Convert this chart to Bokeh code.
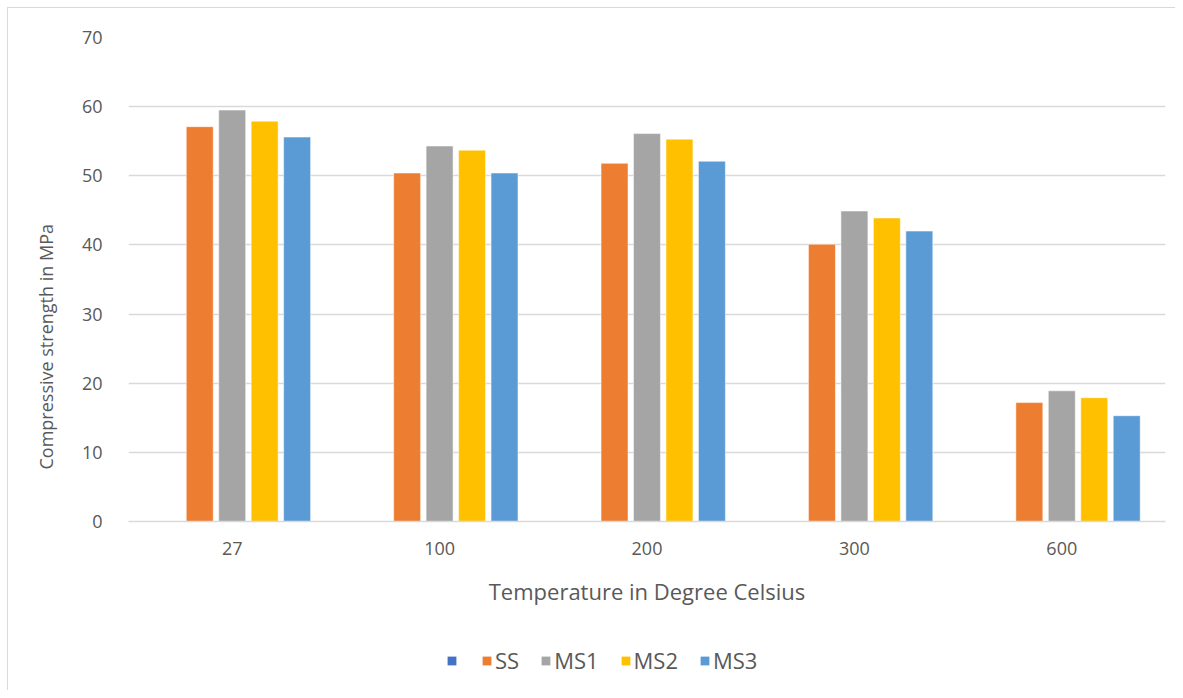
from bokeh.plotting import figure
from bokeh.layouts import column
from bokeh.models import ColumnDataSource, FactorRange, Legend, LegendItem, Range1d, SingleIntervalTicker, Title
from bokeh.transform import dodge
from bokeh.embed import file_html
from bokeh.resources import INLINE

categories = ["27", "100", "200", "300", "600"]
blank = [0, 0, 0, 0, 0]
ss = [57.1, 50.4, 51.8, 40.1, 17.2]
ms1 = [59.5, 54.3, 56.1, 44.9, 18.9]
ms2 = [57.9, 53.7, 55.3, 43.9, 17.9]
ms3 = [55.6, 50.4, 52.1, 42.0, 15.3]

series_names = ["", "SS", "MS1", "MS2", "MS3"]
series_values = [blank, ss, ms1, ms2, ms3]
colors = ["#4472C4", "#ED7D31", "#A5A5A5", "#FFC000", "#5B9BD5"]

data = {"cat": categories}
for i, vals in enumerate(series_values):
    data[f"s{i}"] = vals
source = ColumnDataSource(data)

FONT = "Open Sans"
TXT = "#595959"

main = figure(width=1167, height=600, x_range=FactorRange(*categories),
              y_range=Range1d(0, 70), output_backend="svg", toolbar_location=None,
              min_border_left=120, min_border_right=10, min_border_top=29,
              min_border_bottom=86)
main.outline_line_color = None
main.x_range.range_padding = 0

step = 0.1565
width = 0.13
for i in range(5):
    main.vbar(x=dodge("cat", (i - 2) * step, range=main.x_range), top=f"s{i}",
              width=width, source=source, fill_color=colors[i],
              line_color="white", line_width=0.5)

main.yaxis.ticker = SingleIntervalTicker(interval=10)
main.ygrid.grid_line_color = "#d9d9d9"
main.ygrid.grid_line_width = 1.5
main.xgrid.grid_line_color = None

for ax in (main.xaxis, main.yaxis):
    ax.major_tick_line_color = None
    ax.minor_tick_line_color = None
    ax.major_label_text_font = FONT
    ax.major_label_text_font_size = "18px"
    ax.major_label_text_color = TXT
    ax.axis_label_text_font = FONT
    ax.axis_label_text_color = TXT
    ax.axis_label_text_font_style = "normal"

main.xaxis.axis_label_text_font_size = "22px"
main.yaxis.axis_line_color = None
main.xaxis.axis_line_color = "#d9d9d9"
main.xaxis.axis_line_width = 1.5
main.xaxis.axis_label = "Temperature in Degree Celsius"
main.xaxis.major_label_standoff = 14
main.xaxis.axis_label_standoff = 18
main.yaxis.major_label_standoff = 20

ytitle = Title(text="Compressive strength in MPa", align="left", offset=52,
               standoff=41, text_font=FONT, text_font_size="18px",
               text_color=TXT, text_font_style="normal")
main.add_layout(ytitle, "left")

# legend strip
leg = figure(width=1167, height=82, x_range=Range1d(0, 1), y_range=Range1d(0, 1),
             output_backend="svg", toolbar_location=None,
             x_axis_type=None, y_axis_type=None,
             min_border_left=0, min_border_right=0, min_border_top=0, min_border_bottom=0)
leg.grid.visible = False
leg.outline_line_color = None
dummy = ColumnDataSource({"x": [-10], "top": [-10]})
items = []
for i in range(5):
    r = leg.vbar(x="x", top="top", width=0.1, source=dummy, fill_color=colors[i],
                 line_color=None)
    items.append(LegendItem(label=series_names[i] if series_names[i] else " ",
                            renderers=[r]))
legend = Legend(items=items, orientation="horizontal", location=(318, 15),
                label_text_font=FONT, label_text_font_size="22px",
                label_text_color=TXT, glyph_width=11, glyph_height=11,
                label_standoff=3, label_width=0, spacing=21, border_line_color=None,
                background_fill_alpha=0, margin=0, padding=0)
leg.add_layout(legend, "center")

p = column(main, leg, spacing=0,
           styles={"margin-left": "7px", "margin-top": "7px",
                   "border-left": "1px solid #d9d9d9", "border-top": "1px solid #d9d9d9"})

open("out.html", "w").write(file_html(p, INLINE))
